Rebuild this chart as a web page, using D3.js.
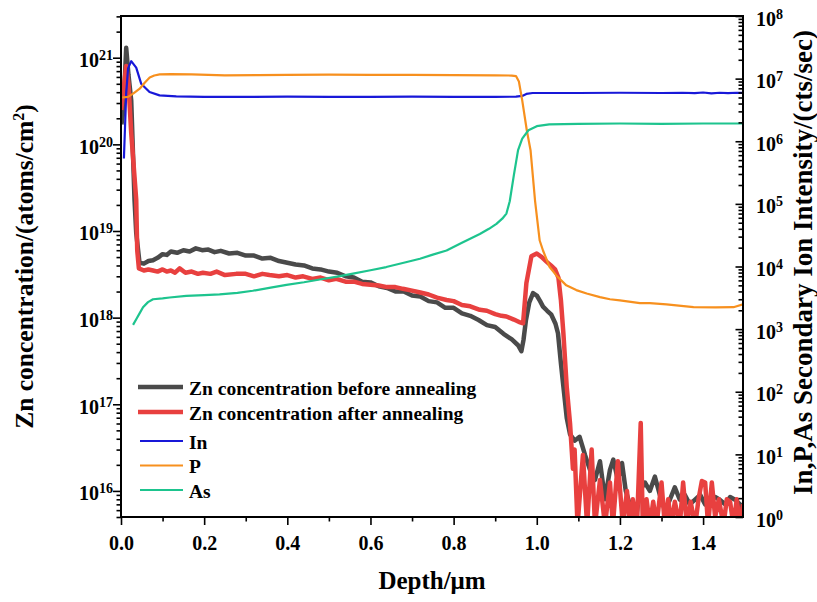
<!DOCTYPE html>
<html>
<head>
<meta charset="utf-8">
<script src="https://cdn.jsdelivr.net/npm/d3@7"></script>
<style>
  body { margin: 0; background: #fff; }
</style>
</head>
<body>
<svg></svg>
<script>
// Zn concentration before annealing (left axis)
const beforeDepth = [0.001,0.006,0.0125,0.018,0.0246,0.0325,0.0366,0.0445,0.055,0.066,0.077,0.088,0.1,0.11,0.12,0.135,0.15,0.165,0.18,0.195,0.21,0.225,0.24,0.26,0.28,0.3,0.32,0.34,0.36,0.38,0.4,0.42,0.44,0.46,0.48,0.5,0.52,0.54,0.56,0.58,0.6,0.62,0.64,0.66,0.68,0.7,0.72,0.74,0.76,0.78,0.8,0.82,0.84,0.86,0.88,0.9,0.92,0.94,0.955,0.963,0.968,0.974,0.982,0.991,1.0,1.008,1.015,1.025,1.035,1.045,1.051,1.058,1.064,1.072,1.08,1.091,1.103,1.116,1.128,1.14,1.152,1.164,1.176,1.184,1.195,1.205,1.214,1.224,1.236,1.248,1.26,1.272,1.284,1.296,1.308,1.32,1.332,1.344,1.356,1.368,1.38,1.393,1.405,1.417,1.429,1.44,1.453,1.465,1.477,1.489,1.496];
const beforeZn = [1.7e20,2.5e20,1.3e21,6.3e20,3.2e20,2.3e19,9.5e18,4.3e18,4.2e18,4.5e18,4.6e18,4.9e18,5.4e18,5.3e18,5.8e18,5.6e18,6.0e18,5.8e18,6.3e18,6.0e18,6.1e18,5.7e18,5.9e18,5.5e18,5.6e18,5.2e18,5.2e18,4.8e18,4.9e18,4.5e18,4.3e18,4.1e18,4.0e18,3.7e18,3.6e18,3.4e18,3.3e18,3.0e18,2.9e18,2.6e18,2.55e18,2.3e18,2.2e18,2.0e18,2.0e18,1.8e18,1.75e18,1.55e18,1.5e18,1.3e18,1.3e18,1.12e18,1.05e18,9.4e17,8.2e17,7.8e17,6.5e17,5.6e17,4.8e17,4.1e17,5.5e17,9.4e17,1.5e18,1.92e18,1.8e18,1.55e18,1.34e18,1.2e18,1.08e18,8.5e17,6.6e17,3.0e17,1.6e17,7e16,4.5e16,3.8e16,4.2e16,2.6e16,1.75e16,1.34e16,2.2e16,8e15,1.75e16,2.3e16,1.34e16,2.1e16,1.0e16,6.9e15,4e15,1.0e16,1.25e16,1.0e16,1.46e16,9e15,6e15,7.9e15,1.1e16,7.9e15,9e15,7e15,7.9e15,9e15,7e15,7.9e15,8.5e15,7.9e15,7e15,8.5e15,7.9e15,7e15,6e15];

// Zn concentration after annealing (left axis)
const afterDepth = [0.0005,0.004,0.0125,0.018,0.0246,0.0366,0.039,0.043,0.055,0.066,0.077,0.088,0.1,0.11,0.12,0.13,0.141,0.155,0.17,0.185,0.197,0.215,0.23,0.25,0.277,0.3,0.32,0.34,0.357,0.38,0.4,0.42,0.438,0.46,0.48,0.5,0.518,0.54,0.56,0.58,0.6,0.62,0.64,0.66,0.678,0.7,0.72,0.74,0.76,0.783,0.8,0.82,0.84,0.863,0.88,0.9,0.915,0.927,0.945,0.96,0.967,0.975,0.987,1.0,1.012,1.024,1.034,1.044,1.052,1.058,1.064,1.072,1.08,1.087,1.091,1.098,1.111,1.121,1.132,1.14,1.152,1.164,1.176,1.183,1.195,1.207,1.217,1.224,1.231,1.241,1.25,1.255,1.264,1.272,1.28,1.288,1.3,1.308,1.316,1.324,1.332,1.344,1.352,1.361,1.37,1.381,1.389,1.397,1.405,1.412,1.421,1.429,1.438,1.449,1.457,1.465,1.473,1.481,1.489,1.496];
const afterZn = [2.5e20,3.5e20,8e20,5e20,1.35e20,2.3e19,6e18,3.7e18,3.5e18,3.6e18,3.5e18,3.4e18,3.6e18,3.4e18,3.5e18,3.3e18,3.7e18,3.3e18,3.4e18,3.2e18,3.3e18,3.2e18,3.4e18,3.1e18,3.2e18,3.2e18,3.0e18,3.2e18,3.1e18,3.0e18,3.1e18,2.9e18,3.0e18,2.8e18,2.9e18,2.7e18,2.8e18,2.6e18,2.6e18,2.45e18,2.4e18,2.35e18,2.25e18,2.25e18,2.15e18,2.05e18,1.95e18,1.85e18,1.7e18,1.6e18,1.55e18,1.4e18,1.35e18,1.23e18,1.2e18,1.1e18,1.05e18,1.03e18,9.5e17,8.8e17,8.6e17,2.5e18,5.1e18,5.5e18,5.0e18,4.4e18,4.0e18,3.6e18,2.9e18,1.6e18,6.6e17,1.6e17,6e16,1.8e16,3e16,4e15,2.6e16,4e15,3e16,4e15,1.34e16,4e15,1.25e16,4e15,2.2e16,4e15,1.0e16,4e15,8e15,4e15,6.1e16,4e15,8e15,4e15,7.5e15,4e15,1.25e16,4e15,8e15,4e15,7.5e15,4e15,1.25e16,4e15,7.5e15,4e15,8e15,1.3e16,1.25e16,4e15,1.25e16,5e15,8e15,4e15,8e15,7.5e15,4e15,8e15,4e15,7e15];

// In, P, As secondary ion intensity (right axis)
const inDepth = [0.007,0.0125,0.017,0.0246,0.0366,0.0485,0.0686,0.0927,0.133,0.2,0.3,0.4,0.5,0.6,0.7,0.8,0.9,0.95,0.965,0.975,0.99,1.05,1.1,1.2,1.3,1.35,1.38,1.4,1.42,1.44,1.46,1.48,1.496];
const inCounts = [5.3e5,5.8e6,1.46e7,1.9e7,1.5e7,8.3e6,6.1e6,5.4e6,5.2e6,5.1e6,5.1e6,5.15e6,5.1e6,5.1e6,5.15e6,5.1e6,5.1e6,5.15e6,5.3e6,5.7e6,5.9e6,5.9e6,5.9e6,5.95e6,5.9e6,5.95e6,5.85e6,6.0e6,5.8e6,5.95e6,5.85e6,5.95e6,5.9e6];

const pDepth = [0.003,0.017,0.03,0.045,0.057,0.069,0.08,0.093,0.12,0.17,0.25,0.33,0.4,0.5,0.6,0.7,0.8,0.9,0.94,0.95,0.957,0.965,0.976,0.985,0.996,1.007,1.015,1.031,1.047,1.071,1.095,1.12,1.152,1.176,1.2,1.248,1.272,1.312,1.377,1.43,1.473,1.496];
const pCounts = [5.0e6,5.1e6,5.8e6,6.9e6,8.6e6,1.04e7,1.12e7,1.17e7,1.18e7,1.17e7,1.13e7,1.14e7,1.15e7,1.16e7,1.15e7,1.15e7,1.14e7,1.13e7,1.12e7,1.1e7,9e6,4.5e6,1.5e6,7.2e5,1.1e5,2.6e4,1.8e4,9.8e3,7.2e3,5e3,4.2e3,3.7e3,3.24e3,3.0e3,2.87e3,2.6e3,2.6e3,2.48e3,2.24e3,2.22e3,2.24e3,2.48e3];

const asDepth = [0.029,0.037,0.045,0.053,0.065,0.077,0.1,0.117,0.157,0.2,0.237,0.28,0.317,0.36,0.398,0.44,0.478,0.52,0.558,0.6,0.638,0.68,0.719,0.75,0.783,0.82,0.863,0.885,0.903,0.917,0.927,0.935,0.945,0.955,0.965,0.98,1.0,1.03,1.1,1.2,1.3,1.4,1.496];
const asCounts = [1.17e3,1.45e3,1.8e3,2.24e3,2.7e3,3.0e3,3.1e3,3.2e3,3.4e3,3.5e3,3.6e3,3.8e3,4.1e3,4.6e3,5.1e3,5.6e3,6.2e3,6.9e3,7.7e3,8.7e3,9.8e3,1.15e4,1.33e4,1.55e4,1.8e4,2.4e4,3.3e4,4.0e4,4.8e4,5.8e4,7e4,1.1e5,2.9e5,7.2e5,1.1e6,1.5e6,1.74e6,1.86e6,1.9e6,1.92e6,1.9e6,1.92e6,1.92e6];

// tick labels
const xTicks = [0, 0.2, 0.4, 0.6, 0.8, 1.0, 1.2, 1.4];
const xMinor = [0.1, 0.3, 0.5, 0.7, 0.9, 1.1, 1.3];
const leftExp = [16, 17, 18, 19, 20, 21];
const rightExp = [0, 1, 2, 3, 4, 5, 6, 7, 8];

const FONT = '"Liberation Serif", "Times New Roman", serif';

const svg = d3.select("svg")
    .attr("width", 817)
    .attr("height", 602)
    .style("font-family", FONT)
    .style("font-weight", "bold");

const margin = {top: 16, right: 74, bottom: 85, left: 121},
      width = 817 - margin.left - margin.right,
      height = 602 - margin.top - margin.bottom;

const g = svg.append("g")
    .attr("transform", `translate(${margin.left},${margin.top})`);

const x = d3.scaleLinear().domain([0, 1.496]).range([0, width]);
const yL = d3.scaleLog().domain([5e15, 3.03e21]).range([height, 0]);
const yR = d3.scaleLog().domain([1, 1e8]).range([height, 0]);

// minor ticks for log axes: 2..9 in each decade
function logMinor(lo, hi) {
    const out = [];
    for (let e = lo; e <= hi; e++)
        for (let k = 2; k <= 9; k++) out.push(k * Math.pow(10, e));
    return out;
}

g.append("clipPath").attr("id", "clip")
  .append("rect").attr("width", width).attr("height", height);

const plot = g.append("g").attr("clip-path", "url(#clip)");

const series = [
    {d: beforeDepth, v: beforeZn, y: yL, color: "#4a4a4a", w: 4.5},
    {d: afterDepth, v: afterZn, y: yL, color: "#e8403f", w: 4.5},
    {d: inDepth, v: inCounts, y: yR, color: "#1818d8", w: 2.2},
    {d: pDepth, v: pCounts, y: yR, color: "#f7901e", w: 2.2},
    {d: asDepth, v: asCounts, y: yR, color: "#1dc48e", w: 2.2}
];

series.forEach(s => {
    const line = d3.line().x(p => x(p[0])).y(p => s.y(p[1]));
    plot.append("path")
        .datum(d3.zip(s.d, s.v))
        .attr("fill", "none")
        .attr("stroke", s.color)
        .attr("stroke-width", s.w)
        .attr("stroke-linejoin", "round")
        .attr("d", line);
});

// axes
function styleAxis(sel) {
    sel.attr("font-family", null).attr("font-size", null);
    sel.select(".domain").remove();
    sel.selectAll(".tick line").attr("stroke", "#000").attr("stroke-width", 1.6);
    sel.selectAll(".tick text").attr("fill", "#000").style("font-family", FONT).style("font-weight", "bold");
}

g.append("g").attr("transform", `translate(0,${height})`)
    .call(d3.axisBottom(x).tickValues(xMinor).tickSize(4.5).tickFormat(""))
    .call(styleAxis);
const xa = g.append("g").attr("transform", `translate(0,${height})`)
    .call(d3.axisBottom(x).tickValues(xTicks).tickSize(8).tickFormat(d3.format(".1f")))
    .call(styleAxis);
xa.selectAll(".tick text").attr("y", 33).attr("dy", 0).style("font-size", "20px");

g.append("g")
    .call(d3.axisLeft(yL).tickValues(logMinor(15, 21).filter(v => v >= 5e15 && v <= 3.03e21)).tickSize(4.5).tickFormat(""))
    .call(styleAxis);
const la = g.append("g")
    .call(d3.axisLeft(yL).tickValues(leftExp.map(e => Math.pow(10, e))).tickSize(8).tickFormat(""))
    .call(styleAxis);
la.selectAll(".tick text").each(function(d, i) {
    const t = d3.select(this).attr("x", -8).attr("dy", 0).attr("y", 9).attr("text-anchor", "end");
    t.append("tspan").style("font-size", "20px").text("10");
    t.append("tspan").style("font-size", "14px").attr("dy", -7).text(leftExp[i]);
});

g.append("g").attr("transform", `translate(${width},0)`)
    .call(d3.axisRight(yR).tickValues(logMinor(0, 7)).tickSize(-4.5).tickFormat(""))
    .call(styleAxis);
const ra = g.append("g").attr("transform", `translate(${width},0)`)
    .call(d3.axisRight(yR).tickValues(rightExp.map(e => Math.pow(10, e))).tickSize(-7.5).tickFormat(""))
    .call(styleAxis);
ra.selectAll(".tick text").each(function(d, i) {
    const t = d3.select(this).attr("x", 13).attr("dy", 0).attr("y", 9).attr("text-anchor", "start");
    t.append("tspan").style("font-size", "20px").text("10");
    t.append("tspan").style("font-size", "14px").attr("dy", -7).text(rightExp[i]);
});

// frame
g.append("rect")
    .attr("width", width).attr("height", height)
    .attr("fill", "none").attr("stroke", "#000").attr("stroke-width", 2);

// axis titles
svg.append("text")
    .attr("x", margin.left + width / 2).attr("y", 589)
    .attr("text-anchor", "middle")
    .style("font-size", "25px")
    .text("Depth/μm");

const lt = svg.append("text")
    .attr("transform", `translate(33,${margin.top + height / 2}) rotate(-90)`)
    .attr("text-anchor", "middle")
    .style("font-size", "25.5px");
lt.append("tspan").text("Zn concentration/(atoms/cm");
lt.append("tspan").attr("dy", -9).style("font-size", "16px").text("2");
lt.append("tspan").attr("dy", 9).text(")");

svg.append("text")
    .attr("transform", `translate(812,${margin.top + height / 2 - 4}) rotate(-90)`)
    .attr("text-anchor", "middle")
    .style("font-size", "27px")
    .text("In,P,As Secondary Ion Intensity/(cts/sec)");

// legend
const legendNames = ["Zn concentration before annealing", "Zn concentration after annealing", "In", "P", "As"];
const legendY = [387, 412, 441, 465.5, 490];
const legend = svg.append("g");
legendNames.forEach((name, i) => {
    const s = series[i];
    legend.append("line")
        .attr("x1", i < 2 ? 138 : 140).attr("x2", 183)
        .attr("y1", legendY[i]).attr("y2", legendY[i])
        .attr("stroke", s.color).attr("stroke-width", i < 2 ? 4.5 : 2.2);
    legend.append("text")
        .attr("x", 189).attr("y", legendY[i] + 7.5)
        .style("font-size", "19.5px")
        .text(name);
});
</script>
</body>
</html>
